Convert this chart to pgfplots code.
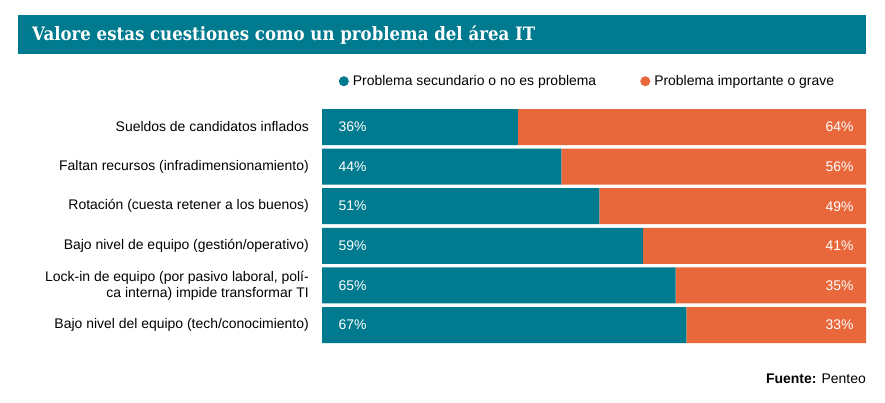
\documentclass[border=0pt]{standalone}
\usepackage{pgfplots}
\usepackage{pgfplotstable}
\pgfplotsset{compat=1.18}
\usepackage{fontspec}
\setmainfont{Liberation Sans}
\newfontfamily\titlefont[FakeStretch=0.9]{DejaVu Serif}
\definecolor{tealc}{HTML}{007A8E}
\definecolor{orangec}{HTML}{E8683C}

\pgfplotstableread{
y z f a b
0 0 100 36 64
1 0 100 44 56
2 0 100 51 49
3 0 100 59 41
4 0 100 65 35
5 0 100 67 33
}\data

\pgfplotsset{
  geom/.style={at={(322bp,-107.2bp)}, anchor=north west, scale only axis,
    width=544bp, height=237.6bp, xmin=0, xmax=100, ymin=-0.5, ymax=5.5, y dir=reverse},
}

\begin{document}
\begin{tikzpicture}[x=1bp,y=1bp]
\useasboundingbox (0,0) rectangle (885,-402);
\fill[tealc] (18,-15) rectangle (866,-54);
\node[anchor=base west, text=white, font=\titlefont\bfseries\fontsize{18.5}{20}\selectfont, inner sep=0] at (32,-40.5) {Valore estas cuestiones como un problema del área IT};
\node[anchor=base east, inner sep=0, font=\fontsize{14}{16}\selectfont] at (866,-383) {\textbf{Fuente:} Penteo};

\begin{axis}[geom, xbar stacked, bar width=36bp,
  axis line style={draw=none}, xtick=\empty, ytick={0,...,5}, major tick length=0pt,
  yticklabels={Sueldos de candidatos inflados, Faltan recursos (infradimensionamiento), Rotación (cuesta retener a los buenos), Bajo nivel de equipo (gestión/operativo), {Lock-in de equipo (por pasivo laboral, polí-\\ca interna) impide transformar TI}, Bajo nivel del equipo (tech/conocimiento)},
  yticklabel style={align=right, font=\fontsize{14}{16}\selectfont, inner sep=0pt, xshift=-13bp},
  legend columns=2,
  legend style={at={(0.488,1)}, anchor=south, yshift=16bp, draw=none, fill=none,
    font=\fontsize{14}{16}\selectfont,
    /tikz/every even column/.append style={column sep=42bp}},
]
\addplot[fill=tealc, draw=none, legend image code/.code={\fill[tealc] (0bp,0bp) circle (5bp); \path (-5bp,0bp) -- (7bp,0bp);}] table[x=a, y=y] {\data};
\addlegendentry{Problema secundario o no es problema}
\addplot[fill=orangec, draw=none, legend image code/.code={\fill[orangec] (0bp,0bp) circle (5bp); \path (-5bp,0bp) -- (7bp,0bp);}] table[x=b, y=y] {\data};
\addlegendentry{Problema importante o grave}
\end{axis}

\begin{axis}[geom, hide axis, /pgf/number format/assume math mode=true]
\addplot[only marks, mark=text, text mark={}, point meta=explicit,
  nodes near coords={\pgfmathprintnumber{\pgfplotspointmeta}\%},
  every node near coord/.append style={anchor=west, text=white, xshift=13bp, font=\fontsize{14}{16}\selectfont}]
  table[x=z, y=y, meta=a] {\data};
\addplot[only marks, mark=text, text mark={}, point meta=explicit,
  nodes near coords={\pgfmathprintnumber{\pgfplotspointmeta}\%},
  every node near coord/.append style={anchor=east, text=white, xshift=-9bp, font=\fontsize{14}{16}\selectfont}]
  table[x=f, y=y, meta=b] {\data};
\end{axis}
\end{tikzpicture}
\end{document}
